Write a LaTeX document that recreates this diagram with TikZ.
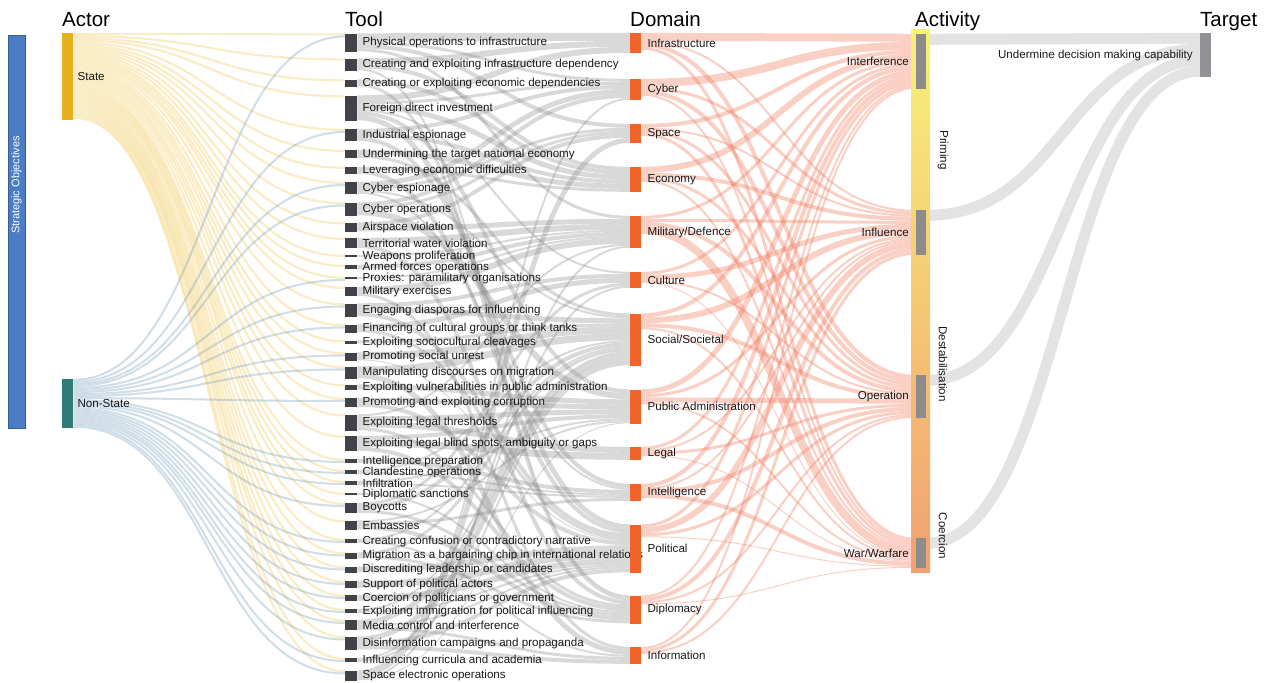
\documentclass[tikz,border=0pt]{standalone}
\usepackage{fontspec}
\setmainfont{Liberation Sans}
\usetikzlibrary{positioning,backgrounds}

\definecolor{objblue}{RGB}{74,125,196}
\definecolor{stategold}{RGB}{232,176,28}
\definecolor{nonstateteal}{RGB}{46,123,120}
\definecolor{tooldark}{RGB}{66,66,72}
\definecolor{domainorange}{RGB}{240,100,42}
\definecolor{actgray}{RGB}{140,140,140}
\definecolor{targetgray}{RGB}{145,145,152}
\definecolor{stateflow}{RGB}{240,200,90}
\definecolor{nonstateflow}{RGB}{120,160,190}
\definecolor{toolflow}{RGB}{130,130,130}
\definecolor{domainflow}{RGB}{240,120,90}
\definecolor{targetflow}{RGB}{200,200,200}
\definecolor{catyellow}{RGB}{247,242,120}
\definecolor{catmid}{RGB}{249,215,105}
\definecolor{catorange}{RGB}{243,160,112}

\makeatletter
%Band von Knoten #2 nach Knoten #3, Breite #4, gestapelt
\newcommand{\skband}[4]{%
  \@ifundefined{sko@#2}{\def\sk@a{0}}{\edef\sk@a{\csname sko@#2\endcsname}}%
  \@ifundefined{ski@#3}{\def\sk@b{0}}{\edef\sk@b{\csname ski@#3\endcsname}}%
  \pgfmathsetmacro\sk@c{\sk@a+#4/2}%
  \pgfmathsetmacro\sk@d{\sk@b+#4/2}%
  \draw[#1, line width=#4pt] ([yshift=-\sk@c pt]#2.north east) .. controls +(137,0) and +(-137,0) .. ([yshift=-\sk@d pt]#3.north west);
  \pgfmathsetmacro\sk@c{\sk@a+#4}\expandafter\xdef\csname sko@#2\endcsname{\sk@c}%
  \pgfmathsetmacro\sk@d{\sk@b+#4}\expandafter\xdef\csname ski@#3\endcsname{\sk@d}%
}
\makeatother

\begin{document}
\begin{tikzpicture}
		[
		x=1pt, y=-1pt, font=\fontsize{11.6}{13.5}\selectfont,
		%Balken
		bar/.style={inner sep=0pt, anchor=west},
		toolbar/.style={bar, fill=tooldark, minimum width=12pt},
		domainbar/.style={bar, fill=domainorange, minimum width=11pt},
		actbar/.style={bar, fill=actgray, minimum width=10pt},
		lab/.style={inner sep=2pt, text=black!90},
		heading/.style={font=\fontsize{20.5}{24}\selectfont, anchor=base west, inner sep=0pt},
		%Baender
		stateband/.style={draw=stateflow, draw opacity=0.35},
		nonstateband/.style={draw=nonstateflow, draw opacity=0.35},
		toolband/.style={draw=toolflow, draw opacity=0.3},
		domainband/.style={draw=domainflow, draw opacity=0.35},
		targetband/.style={draw=targetflow, draw opacity=0.5}
		]
		
		\useasboundingbox (0,0) rectangle (1270,683);
		
		%Ueberschriften
		\node[heading] (hactor) at (62,26) {Actor};
		\node[heading] (htool) at (345,26) {Tool};
		\node[heading] (hdomain) at (630,26) {Domain};
		\node[heading] (hact) at (915,26) {Activity};
		\node[heading] (htarget) at (1200,26) {Target};
		
		%Strategische Ziele
		\node[bar, fill=objblue, draw=objblue!75!black, minimum width=17pt, minimum height=393pt] (obj) at (8,231.5) {};
		\node[rotate=90, text=white, font=\fontsize{11}{13}\selectfont] (objlab) at (16.5,185) {Strategic Objectives};
		
		%Akteure
		\node[bar, fill=stategold, minimum width=11pt, minimum height=87pt] (state) at (62,76.5) {};
		\node[bar, fill=nonstateteal, minimum width=11pt, minimum height=49pt] (nonstate) at (62,403.5) {};
		\node[lab, right=2pt of state] {State};
		\node[lab, right=2pt of nonstate] {Non-State};
		
		%Werkzeuge
		\foreach \k/\y/\hh/\txt in {
			1/42.5/18/Physical operations to infrastructure,
			2/64.5/12/Creating and exploiting infrastructure dependency,
			3/83/7/Creating or exploiting economic dependencies,
			4/108/25/Foreign direct investment,
			5/135/12/Industrial espionage,
			6/154/8/Undermining the target national economy,
			7/170.5/7/Leveraging economic difficulties,
			8/188/12/Cyber espionage,
			9/209/13/Cyber operations,
			10/227/9/Airspace violation,
			11/243/10/Territorial water violation,
			12/256/2/Weapons proliferation,
			13/267/4/Armed forces operations,
			14/278/2/Proxies: paramilitary organisations,
			15/291.5/9/Military exercises,
			16/310/13/Engaging diasporas for influencing,
			17/328.5/8/Financing of cultural groups or think tanks,
			18/342/3/Exploiting sociocultural cleavages,
			19/356.5/8/Promoting social unrest,
			20/372.5/12/Manipulating discourses on migration,
			21/387/5/Exploiting vulnerabilities in public administration,
			22/402.5/9/Promoting and exploiting corruption,
			23/422.5/16/Exploiting legal thresholds,
			24/443.5/15/{Exploiting legal blind spots, ambiguity or gaps},
			25/461/4/Intelligence preparation,
			26/472/4/Clandestine operations,
			27/483/4/Infiltration,
			28/494/2/Diplomatic sanctions,
			29/508/10/Boycotts,
			30/525/9/Embassies,
			31/541/4/Creating confusion or contradictory narrative,
			32/555.5/6/Migration as a bargaining chip in international relations,
			33/569.5/6/Discrediting leadership or candidates,
			34/584.5/7/Support of political actors,
			35/598/6/Coercion of politicians or government,
			36/611/4/Exploiting immigration for political influencing,
			37/625/10/Media control and interference,
			38/643/13/Disinformation campaigns and propaganda,
			39/660/4/Influencing curricula and academia,
			40/675.5/10/Space electronic operations}
		{
			\node[toolbar, minimum height=\hh pt] (t\k) at (345,\y) {};
			\node[lab, right=3pt of t\k] {\txt};
		}
		
		%Domaenen
		\foreach \k/\y/\hh/\txt in {
			1/43/20/Infrastructure, 2/89.5/21/Cyber, 3/133.5/19/Space,
			4/179.5/25/Economy, 5/232/32/{Military/Defence}, 6/280/16/Culture,
			7/339.5/52/{Social/Societal}, 8/406.5/34/Public Administration,
			9/453.5/13/Legal, 10/492.5/17/Intelligence, 11/548.5/48/Political,
			12/609.5/28/Diplomacy, 13/655.5/17/Information}
		{
			\node[domainbar, minimum height=\hh pt] (d\k) at (630,\y) {};
			\node[lab, right=4pt of d\k] {\txt};
		}
		
		%Aktivitaeten mit Farbverlauf
		\node[anchor=north west, inner sep=0pt, minimum width=19pt, minimum height=543pt,
			top color=catyellow, middle color=catmid, bottom color=catorange] (cat) at (911,29) {};
		\foreach \k/\y/\hh/\txt in {
			1/61.5/55/Interference, 2/232.5/45/Influence,
			3/396.5/43/Operation, 4/553/30/{War/Warfare}}
		{
			\node[actbar, minimum height=\hh pt] (a\k) at (916,\y) {};
			\node[lab, left=5pt of a\k] {\txt};
		}
		\node[lab, rotate=-90] at (943,150) {Priming};
		\node[lab, rotate=-90] at (943,364) {Destabilisation};
		\node[lab, rotate=-90] at (943,536) {Coercion};
		
		%Ziel
		\node[bar, fill=targetgray, minimum width=11pt, minimum height=44pt] (tgt) at (1200,55) {};
		\node[lab, left=5pt of tgt] {Undermine decision making capability};
		
		\begin{pgfonlayer}{background}
		%Akteur -> Werkzeug
		\foreach \k in {1,...,40} {\skband{stateband}{state}{t\k}{2.15}}
		\foreach \k in {1,5,8,9,14,16,17,19,20,22,25,26,27,29,31,32,33,34,35,36,37,38,39,40} {\skband{nonstateband}{nonstate}{t\k}{2.04}}
		
		%Werkzeug -> Domaene
		\foreach \ti/\di/\wi in {
			1/1/8, 1/2/3, 1/3/4, 1/5/3, 2/1/6, 2/4/4, 2/12/2, 3/4/4, 3/12/3,
			4/1/6, 4/2/3, 4/4/5, 4/6/2, 4/8/4, 4/11/5, 5/2/4, 5/4/4, 5/10/4,
			6/4/5, 6/7/3, 7/4/3, 7/11/4, 8/2/5, 8/3/3, 8/7/2, 8/10/2,
			9/2/4, 9/3/3, 9/8/6, 10/3/4, 10/5/5, 11/5/6, 11/12/4,
			12/5/2, 13/5/4, 14/5/2, 15/5/6, 15/13/3, 16/6/4, 16/7/5, 16/11/4,
			17/6/5, 17/11/3, 18/7/3, 19/7/7, 19/11/1, 20/7/7, 20/13/5,
			21/8/5, 22/8/5, 22/11/4, 23/5/2, 23/8/5, 23/9/6, 23/12/3,
			24/8/4, 24/9/7, 24/12/4, 25/10/4, 26/7/2, 26/10/2, 27/8/2, 27/10/2,
			28/12/2, 29/6/3, 29/7/4, 29/12/3, 30/8/2, 30/10/3, 30/12/4,
			31/7/2, 31/13/2, 32/7/3, 32/12/3, 33/11/6, 34/11/7, 35/11/6,
			36/7/2, 36/11/2, 37/7/5, 37/11/2, 37/13/3, 38/7/5, 38/11/4, 38/13/4,
			39/6/2, 39/7/2, 40/2/2, 40/3/5, 40/5/2, 40/8/1}
		{\skband{toolband}{t\ti}{d\di}{\wi}}
		
		%Domaene -> Aktivitaet
		\foreach \di/\ai/\wi in {
			1/1/8, 1/2/2, 1/3/4, 1/4/3, 2/1/8, 2/2/3, 2/3/4, 2/4/2,
			3/1/4, 3/2/2, 3/3/3, 3/4/3, 4/1/6, 4/2/4, 4/3/3, 4/4/2,
			5/1/3, 5/2/3, 5/3/4, 5/4/8, 6/1/3, 6/2/5, 6/3/2, 6/4/1,
			7/1/4, 7/2/6, 7/3/4, 7/4/2, 8/1/5, 8/2/3, 8/3/5, 8/4/2,
			9/1/3, 9/2/2, 9/3/3, 9/4/1, 10/1/4, 10/2/2, 10/3/4, 10/4/4,
			11/1/3, 11/2/6, 11/3/3, 11/4/1, 12/1/2, 12/2/4, 12/3/2, 12/4/1,
			13/1/2, 13/2/3, 13/3/2}
		{\skband{domainband}{d\di}{a\ai}{\wi}}
		
		%Aktivitaet -> Ziel
		\foreach \ai in {1,...,4} {\skband{targetband}{a\ai}{tgt}{11}}
		\end{pgfonlayer}
		
\end{tikzpicture}
\end{document}
